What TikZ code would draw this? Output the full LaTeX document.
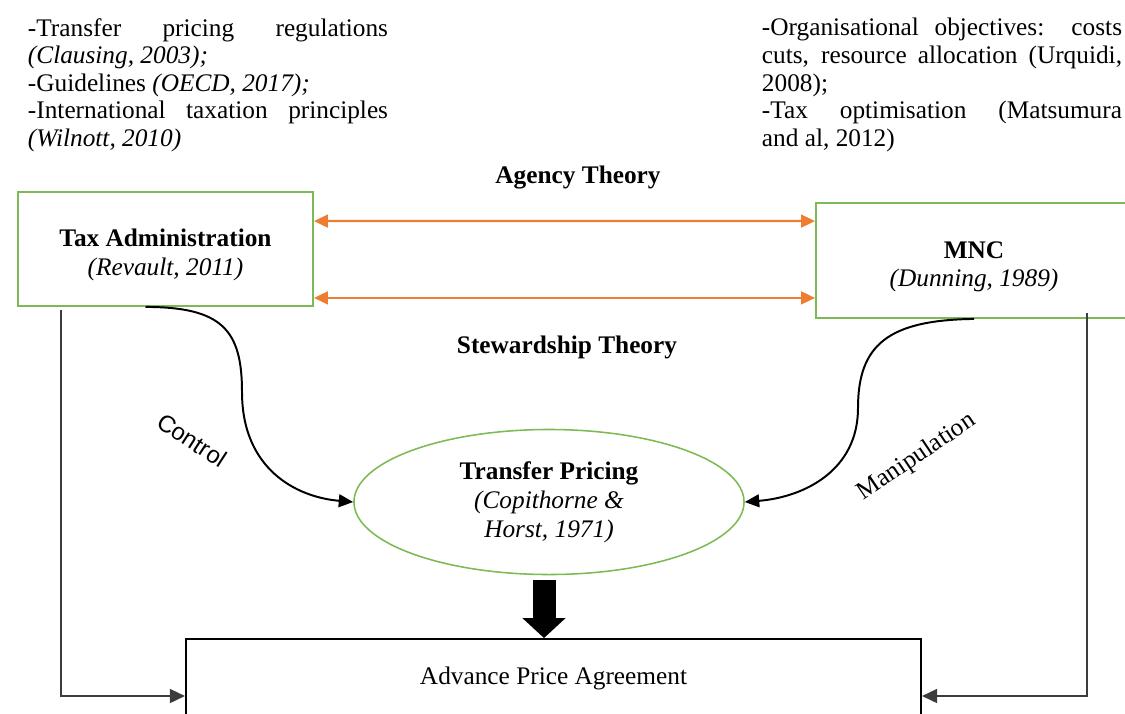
\documentclass[tikz,border=0pt]{standalone}
\usepackage{fontspec}
\setmainfont{Liberation Serif}
\newfontfamily\arialfont{Liberation Sans}
\usetikzlibrary{arrows.meta}
\usetikzlibrary{calc}
\usetikzlibrary{shapes.geometric}
\setlength{\parindent}{0pt}
\definecolor{boxgreen}{RGB}{125,185,85}
\definecolor{linkorange}{RGB}{237,125,49}
\definecolor{feedgray}{RGB}{60,60,60}
\tikzstyle{actor} = [draw=boxgreen, line width=1.3pt, minimum width=7.375cm, minimum height=2.85cm, align=center, inner sep=0pt, font=\fontsize{18}{20.5}\selectfont]
\tikzstyle{refs} = [text width=9cm, align=justify, inner sep=0pt, font=\fontsize{18}{19.6}\selectfont]
\tikzstyle{theory} = [font=\fontsize{18}{20}\selectfont\bfseries]
\tikzstyle{link} = [linkorange, line width=1.6pt, {Triangle[length=3.5mm,width=3.2mm]}-{Triangle[length=3.5mm,width=3.2mm]}]
\tikzstyle{influence} = [line width=1.4pt, -{Triangle[length=3.6mm,width=3.2mm]}]
\tikzstyle{feed} = [feedgray, line width=1.5pt, -{Triangle[length=3.8mm,width=3.5mm]}]

\begin{document}
\begin{tikzpicture}[x=0.025cm, y=-0.025cm]

	\useasboundingbox (0,0) rectangle (1125,713);

	\node [refs] (law) at (208,85) {-Transfer pricing regulations\linebreak \textit{(Clausing, 2003);}\par
		-Guidelines \textit{(OECD, 2017);}\par
		-International taxation principles\linebreak \textit{(Wilnott, 2010)}};
	\node [refs] (goals) at (942,85) {-Organisational objectives: costs\linebreak cuts, resource allocation (Urquidi,\linebreak 2008);\par
		-Tax optimisation (Matsumura\linebreak and al, 2012)};

	\node [actor] (tax) at (165.5,249) {\rule{0pt}{21pt}\textbf{Tax Administration}\\ \textit{(Revault, 2011)}};
	\node [actor, minimum width=7.9cm, minimum height=2.875cm] (mnc) at (974,260.5) {\rule{0pt}{21pt}\textbf{MNC}\\ \textit{(Dunning, 1989)}};

	\node [theory] (agency) at (578,178) {Agency Theory};
	\node [theory] (steward) at (567,347) {Stewardship Theory};

	\draw [link] ($(tax.north east)+(0,30)$) -- ($(mnc.north west)+(0,19)$);
	\draw [link] ($(tax.south east)+(0,-9)$) -- ($(mnc.south west)+(0,-21)$);

	\node [ellipse, draw=boxgreen, line width=1.1pt, minimum width=9.75cm, minimum height=3.625cm, inner sep=0pt, align=center, font=\fontsize{18}{20.5}\selectfont] (tp) at (549,502) {\textbf{Transfer Pricing}\\ \textit{(Copithorne \&}\\ \textit{Horst, 1971)}};

	\node [draw=black, line width=1.3pt, minimum width=18.375cm, minimum height=1.95cm, font=\fontsize{18}{20}\selectfont] (apa) at (553.5,678) {Advance Price Agreement};

	\draw [influence] ($(tax.south)+(-20,0)$) .. controls (222,307) and (242,330) .. (242,392) .. controls (242,468) and (295,497) .. (tp.west);
	\draw [influence] (mnc.south) .. controls (888,320) and (858,345) .. (858,408) .. controls (858,470) and (805,497) .. (tp.east);

	\node [rotate=-33, font=\arialfont\fontsize{17}{20}\selectfont] (control) at (192,440) {Control};
	\node [rotate=34, font=\fontsize{18}{20}\selectfont] (manip) at (917,457) {Manipulation};

	\draw [line width=0.575cm, -{Triangle[length=0.5cm,width=1.05cm]}] ($(tp.south)+(-5,5)$) -- ($(tp.south |- apa.north)+(-5,0)$);

	\draw [feed] ($(tax.south west)+(44,3)$) |- ($(apa.west)+(0,18)$);
	\draw [feed] ($(mnc.south east)+(-46,-6)$) |- ($(apa.east)+(0,18)$);

\end{tikzpicture}
\end{document}
